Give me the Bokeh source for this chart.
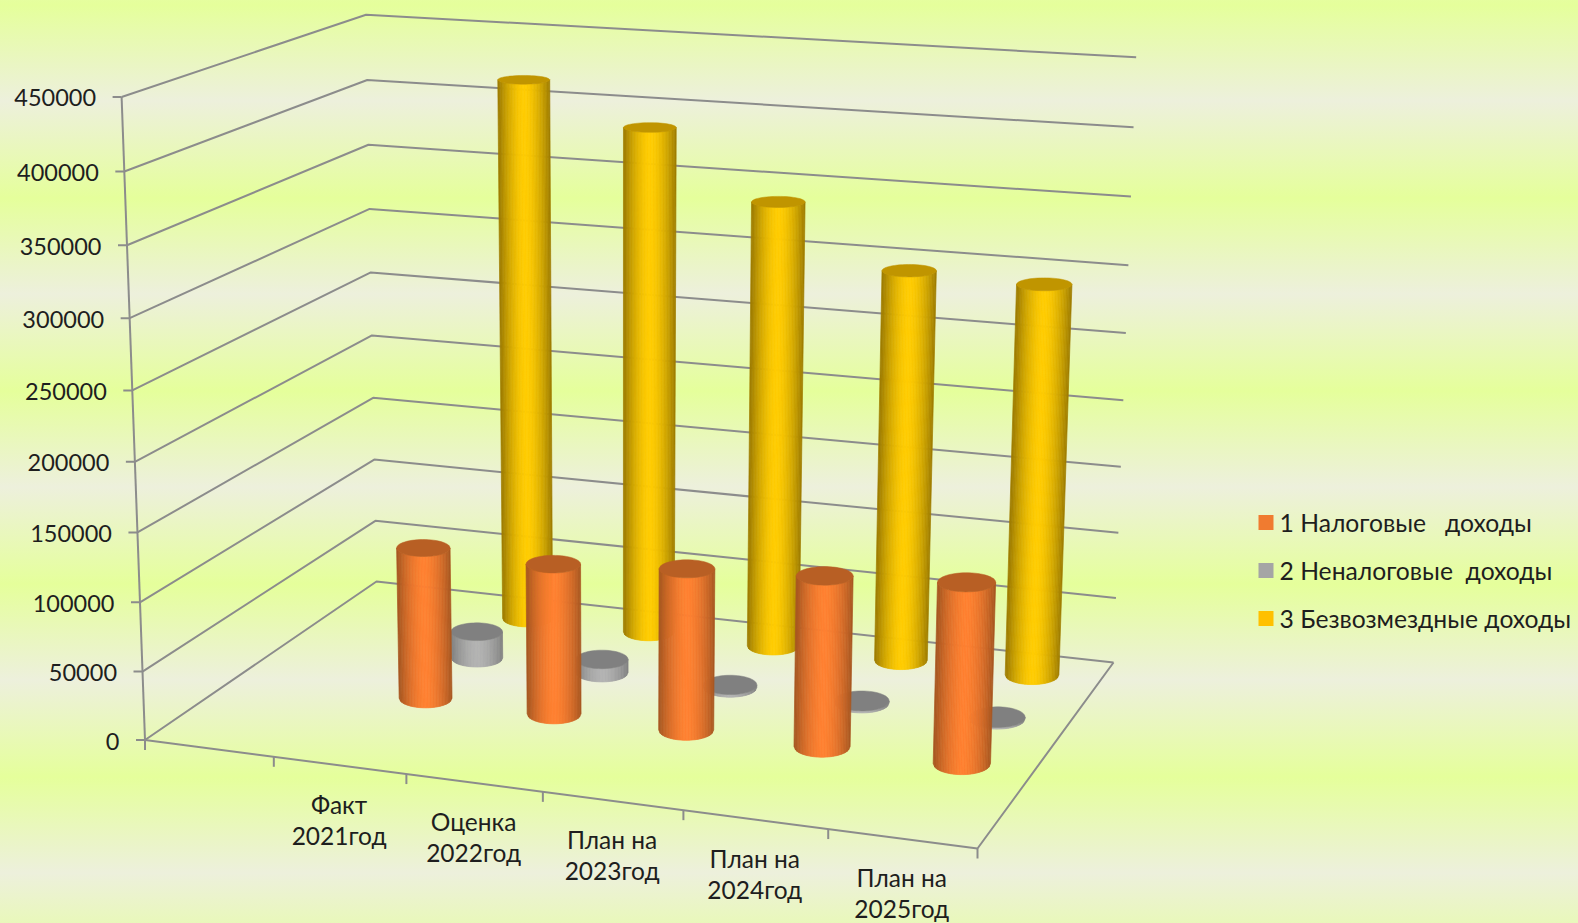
import numpy as np
from bokeh.plotting import figure
from bokeh.embed import file_html
from bokeh.resources import INLINE
from bokeh.core.properties import value

# ---- data ----
categories = ["", "Факт\n2021год", "Оценка\n2022год", "План на\n2023год", "План на\n2024год", "План на\n2025год"]
series_names = ["1 Налоговые\u00a0\u00a0 доходы", "2 Неналоговые\u00a0 доходы", "3 Безвозмездные доходы"]
nalog = [112200, 110500, 117400, 122700, 128600]
nenalog = [20400, 10100, 2000, 1500, 1200]
bezvozm = [416000, 386500, 338000, 294500, 292000]
y_ticks = [0, 50000, 100000, 150000, 200000, 250000, 300000, 350000, 400000, 450000]
Y_MAX = 450000

# ---- styles ----
FONT = "Lato"
GRID = "#8c8c8c"
TEXT = "#1e1e1e"
PEAK = "#e5ff9b"
PALE = "#edf0dc"
styles_cyl = [((255, 128, 48), (165, 85, 32), "#b85f24", "#f07b30"),
              ((178, 178, 178), (128, 128, 128), "#808080", "#a5a5a5"),
              ((255, 204, 0), (155, 122, 0), "#c09500", "#ffc000")]
depth = [0.375, 0.62, 0.878]
radius = 0.0355

# ---- 3D box calibration (floor and walls) ----
floor_uv = [(0, 0), (1, 0), (1, 1), (0, 1)]
floor_xy = [(144.5, 739.5), (977, 848), (1113, 662), (376, 581)]
top_uv = [(0, 0), (0, 1), (1, 1)]
top_xy = [(121.7, 96.7), (365, 14), (1135.7, 56)]

M, b = [], []
for (u, v), (x, y) in zip(floor_uv, floor_xy):
    M.append([u, v, 1, 0, 0, 0, -x * u, -x * v]); b.append(x)
    M.append([0, 0, 0, u, v, 1, -y * u, -y * v]); b.append(y)
A_, B_, C_, D_, E_, F_, G_, H_ = np.linalg.solve(np.array(M, float), np.array(b, float))
M, bx = [], []
for (u, v), (x, y) in zip(top_uv, top_xy):
    w = G_ * u + H_ * v + 1
    M.append([1, 0, -x]); bx.append(x * w - (A_ * u + B_ * v + C_))
    M.append([0, 1, -y]); bx.append(y * w - (D_ * u + E_ * v + F_))
P_, Q_, R_ = np.linalg.lstsq(np.array(M, float), np.array(bx, float), rcond=None)[0]


def proj(s, t, val):
    z = val / Y_MAX
    w = G_ * s + H_ * t + 1 + R_ * z
    x = (A_ * s + B_ * t + C_ + P_ * z) / w
    y = (D_ * s + E_ * t + F_ + Q_ * z) / w
    return x, y + z * t * (-2 + 5 * s)


p = figure(width=1578, height=923, x_range=(0, 1578), y_range=(923, 0),
           output_backend="svg", toolbar_location=None, min_border=0,
           background_fill_alpha=0, border_fill_alpha=0, outline_line_alpha=0)
p.axis.visible = False
p.grid.visible = False
stops = []
for k in range(-1, 6):
    stops.append(f"{PEAK} {5 + 193 * k}px")
    stops.append(f"{PALE} {101 + 193 * k}px")
p.styles = {"position": "absolute", "left": "0px", "top": "0px",
            "background": "linear-gradient(180deg, " + ", ".join(stops) + ")"}

# ---- walls, floor, ticks ----
gx, gy = [], []
for v in y_ticks:
    pts = [proj(0, 0, v), proj(0, 1, v), proj(1, 1, v)]
    gx.append([q[0] for q in pts]); gy.append([q[1] for q in pts])
a0, a1 = proj(0, 0, 0), proj(0, 0, Y_MAX)
gx.append([a0[0], a1[0]]); gy.append([a0[1], a1[1]])
pts = [proj(0, 0, 0), proj(1, 0, 0), proj(1, 1, 0)]
gx.append([q[0] for q in pts]); gy.append([q[1] for q in pts])
for k in range(len(categories) + 1):
    q = proj(k / len(categories), 0, 0)
    gx.append([q[0], q[0]]); gy.append([q[1], q[1] + 10])
for v in y_ticks:
    q = proj(0, 0, v)
    gx.append([q[0] - 9, q[0]]); gy.append([q[1], q[1]])
p.multi_line(gx, gy, line_color=GRID, line_width=2)

# ---- axis labels ----
lx = [proj(0, 0, v)[0] - 25.5 for v in y_ticks]
ly = [proj(0, 0, v)[1] + 1 for v in y_ticks]
p.text(lx, ly, text=[str(v) for v in y_ticks], text_align="right", text_baseline="middle",
       text_font=value(FONT), text_font_size="23.5px", text_color=TEXT)
cx, cy, ct = [], [], []
for k, c in enumerate(categories):
    if not c:
        continue
    q = proj((k + 0.5) / len(categories), 0, 0)
    cx.append(q[0] - 0.5); cy.append(q[1] + 54.5); ct.append(c)
p.text(cx, cy, text=ct, text_align="center", text_baseline="middle",
       text_font=value(FONT), text_font_size="24.5px", text_color=TEXT, text_line_height=1.07)


# ---- cylinders ----
def ratio(y):
    return 0.17 + 0.00032 * (y - 85)


def ends(s, t, val):
    cx_, cy_ = proj(s, t, val)
    hw = (proj(s + radius, t, val)[0] - proj(s - radius, t, val)[0]) / 2 * (0.99 - 0.045 * s)
    return cx_, cy_, hw, hw * ratio(cy_)


def hexc(c):
    return "#%02x%02x%02x" % tuple(int(round(i)) for i in c)


def cylinder(s, t, val, st):
    peak, edge, top_col, _ = st
    xb, yb, wb, hb = ends(s, t, 0)
    xt, yt, wt, ht = ends(s, t, val)
    xs, ys, cols = [], [], []
    n = 36
    us = np.linspace(1, -1, n + 1)
    for i in range(n):
        u0, u1 = us[i], us[i + 1]
        s0, s1 = np.sqrt(1 - u0 * u0), np.sqrt(1 - u1 * u1)
        xs.append([xb + wb * u0, xb + wb * u1, xt + wt * u1, xt + wt * u0])
        ys.append([yb + hb * s0, yb + hb * s1, yt + ht * s1, yt + ht * s0])
        um = (u0 + u1) / 2
        f = 1 - abs(um) ** 1.7
        cols.append(hexc([e + (k - e) * f for k, e in zip(peak, edge)]))
    p.patches(xs, ys, fill_color=cols, line_color=cols, line_width=0.7)
    th = np.linspace(0, 2 * np.pi, 60)
    p.patch(xt + wt * np.cos(th), yt + ht * np.sin(th), fill_color=top_col, line_color=top_col, line_width=0.5)


rows = [nalog, nenalog, bezvozm]
for si in (2, 1, 0):
    for i, val in enumerate(rows[si]):
        cylinder((i + 1.5) / len(categories), depth[si], val, styles_cyl[si])

# ---- legend ----
leg_y = [522, 570, 618]
p.scatter([1265.5] * 3, leg_y, marker="square", size=15, fill_color=[s[3] for s in styles_cyl],
          line_color=None)
p.text([1279] * 3, [y - 0.5 for y in leg_y], text=series_names, text_baseline="middle",
       text_font=value(FONT), text_font_size="24.7px", text_color=TEXT)

open("out.html", "w").write(file_html(p, INLINE))
